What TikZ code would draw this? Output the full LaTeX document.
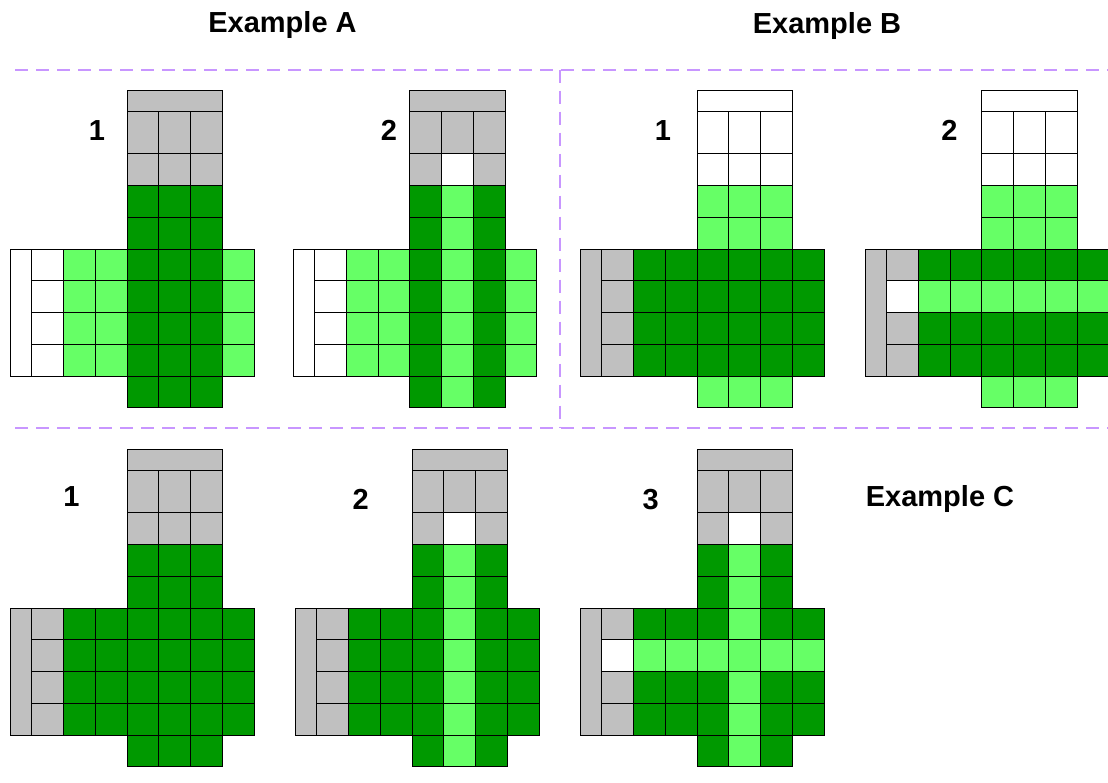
\documentclass[tikz,border=0pt]{standalone}
\usepackage{fontspec}
\setmainfont{Liberation Sans}
\definecolor{cW}{HTML}{FFFFFF}
\definecolor{cG}{HTML}{C0C0C0}
\definecolor{cD}{HTML}{009900}
\definecolor{cL}{HTML}{66FF66}
\definecolor{sepcol}{HTML}{C896FF}
\tikzset{
  cell/.style={draw=black, line width=0.8pt},
  title/.style={font=\fontsize{29}{31}\selectfont\bfseries, anchor=base, inner sep=0pt},
  sepline/.style={draw=sepcol, line width=2pt, dash pattern=on 13pt off 8pt}
}
\newcommand\diag[6]{%
\begin{scope}[shift={(#1pt,-#2pt)}, x=31.75pt, y=-31.75pt]
  \filldraw[cell, fill=c#3] (0,0) rectangle (3,0.66667);
  \foreach \c [count=\i from 0] in {#4} {
    \pgfmathtruncatemacro\r{int(\i/3)}
    \pgfmathtruncatemacro\k{mod(\i,3)}
    \pgfmathsetmacro\yy{{0.66667,2,3,4,9}[\r]}
    \pgfmathsetmacro\hh{{1.33333,1,1,1,1}[\r]}
    \filldraw[cell, fill=c\c] (\k,\yy) rectangle ++(1,\hh);
  }
  \filldraw[cell, fill=c#5] (-3.66667,5) rectangle (-3,9);
  \foreach \c [count=\i from 0] in {#6} {
    \pgfmathtruncatemacro\r{int(\i/7)}
    \pgfmathtruncatemacro\k{mod(\i,7)}
    \filldraw[cell, fill=c\c] (\k-3,5+\r) rectangle ++(1,1);
  }
\end{scope}}
\begin{document}
\begin{tikzpicture}[x=1pt,y=-1pt]
\useasboundingbox (0,0) rectangle (1108,782);
\clip (0,0) rectangle (1108,782);
% separators
\coordinate (s1) at (15,69.5);
\coordinate (s2) at (1108,69.5);
\coordinate (s3) at (15,427.7);
\coordinate (s4) at (1108,427.7);
\coordinate (s5) at (560,69.5);
\coordinate (s6) at (560,427.7);
\draw[sepline] (s1) -- (s2);
\draw[sepline] (s3) -- (s4);
\draw[sepline] (s5) -- (s6);
% titles
\node[title] (tA) at (282.5,32) {Example A};
\node[title] (tB) at (827,33) {Example B};
\node[title] (tC) at (940,506.7) {Example C};
% numbers
\node[title] (a1) at (97,140) {1};
\node[title] (a2) at (389,140.3) {2};
\node[title] (b1) at (663,140) {1};
\node[title] (b2) at (949.5,140) {2};
\node[title] (c1) at (71.5,506.7) {1};
\node[title] (c2) at (360.7,509) {2};
\node[title] (c3) at (650.7,509) {3};
% Example A
\diag{127}{90.3}{G}{G,G,G,G,G,G,D,D,D,D,D,D,D,D,D}{W}%
 {W,L,L,D,D,D,L, W,L,L,D,D,D,L, W,L,L,D,D,D,L, W,L,L,D,D,D,L}
\diag{409.7}{90.3}{G}{G,G,G,G,W,G,D,L,D,D,L,D,D,L,D}{W}%
 {W,L,L,D,L,D,L, W,L,L,D,L,D,L, W,L,L,D,L,D,L, W,L,L,D,L,D,L}
% Example B
\diag{697}{90.3}{W}{W,W,W,W,W,W,L,L,L,L,L,L,L,L,L}{G}%
 {G,D,D,D,D,D,D, G,D,D,D,D,D,D, G,D,D,D,D,D,D, G,D,D,D,D,D,D}
\diag{981.7}{90.3}{W}{W,W,W,W,W,W,L,L,L,L,L,L,L,L,L}{G}%
 {G,D,D,D,D,D,D, W,L,L,L,L,L,L, G,D,D,D,D,D,D, G,D,D,D,D,D,D}
% Example C
\diag{127}{449.3}{G}{G,G,G,G,G,G,D,D,D,D,D,D,D,D,D}{G}%
 {G,D,D,D,D,D,D, G,D,D,D,D,D,D, G,D,D,D,D,D,D, G,D,D,D,D,D,D}
\diag{412}{449.3}{G}{G,G,G,G,W,G,D,L,D,D,L,D,D,L,D}{G}%
 {G,D,D,D,L,D,D, G,D,D,D,L,D,D, G,D,D,D,L,D,D, G,D,D,D,L,D,D}
\diag{697}{449.3}{G}{G,G,G,G,W,G,D,L,D,D,L,D,D,L,D}{G}%
 {G,D,D,D,L,D,D, W,L,L,L,L,L,L, G,D,D,D,L,D,D, G,D,D,D,L,D,D}
\end{tikzpicture}
\end{document}
